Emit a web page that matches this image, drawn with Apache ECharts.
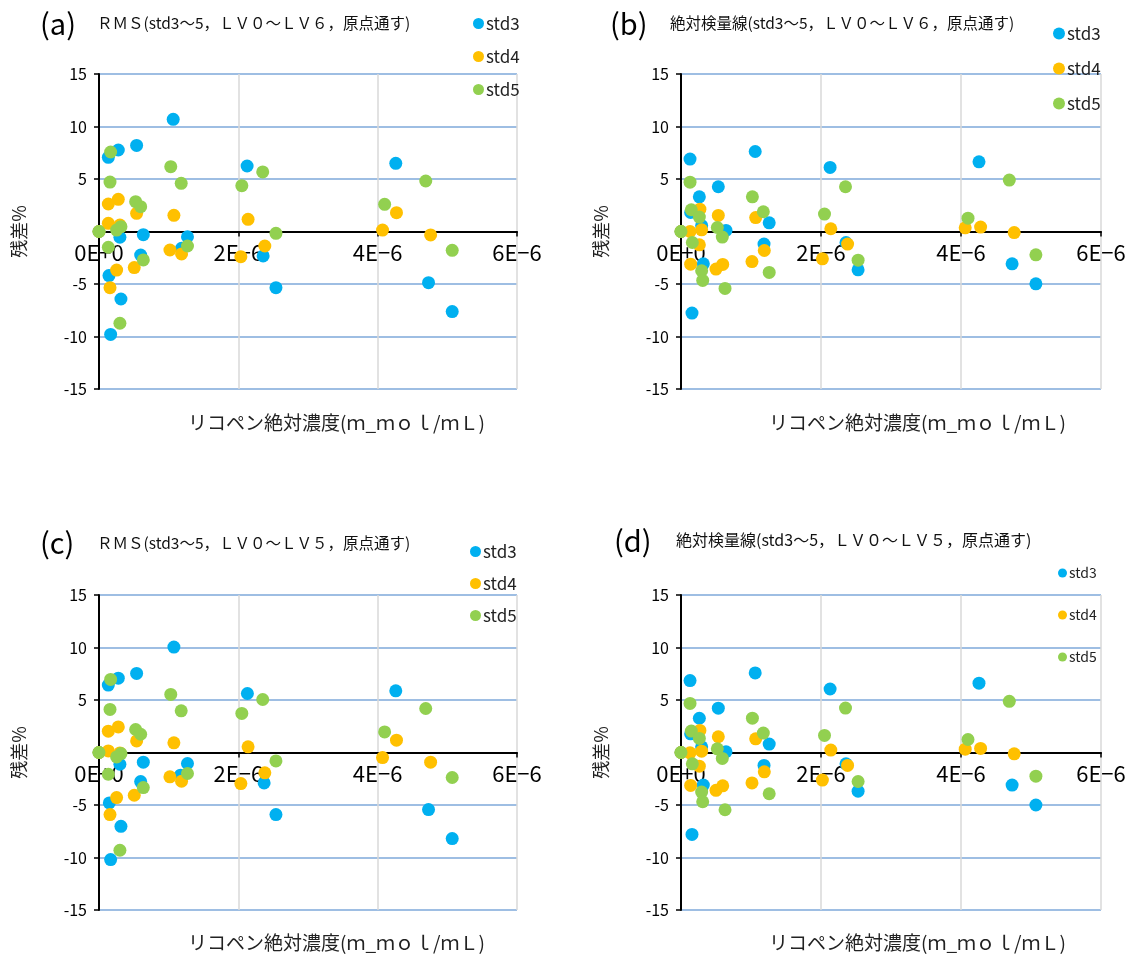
<!DOCTYPE html>
<html>
<head>
<meta charset="utf-8">
<title>残差プロット</title>
<script src="https://cdn.jsdelivr.net/npm/echarts@6/dist/echarts.min.js"></script>
<style>
  html, body { margin: 0; padding: 0; background: #fff; }
  #chart { width: 1132px; height: 960px; }
</style>
</head>
<body>
<div id="chart"></div>
<script>
// x = リコペン絶対濃度 (単位 1E-6 mmol/mL), y = 残差%
const xTicks = [0, 2, 4, 6];
const seriesNames = ['std3', 'std4', 'std5'];

// (a) RMS, LV0~LV6
const a3 = [[0,0],[0.134,7.06],[0.277,7.76],[0.54,8.2],[1.065,10.68],[2.126,6.24],[4.26,6.49],[0.30,-0.55],[0.636,-0.3],[1.27,-0.5],[1.185,-1.6],[0.598,-2.24],[2.356,-2.33],[0.143,-4.2],[0.315,-6.43],[2.54,-5.35],[0.167,-9.8],[4.73,-4.87],[5.07,-7.63]];
const a4 = [[0,0],[0.134,2.62],[0.277,3.06],[0.54,1.73],[1.075,1.54],[2.14,1.16],[0.134,0.78],[0.30,0.62],[1.018,-1.76],[1.185,-2.14],[2.036,-2.4],[2.38,-1.38],[0.253,-3.67],[0.506,-3.44],[0.158,-5.35],[4.27,1.79],[4.07,0.14],[4.76,-0.33]];
const a5 = [[0,0],[0.167,7.57],[1.03,6.17],[2.35,5.67],[0.158,4.71],[1.18,4.59],[2.05,4.36],[0.526,2.84],[0.598,2.36],[0.315,0.46],[0.253,0.14],[2.54,-0.17],[0.134,-1.5],[1.27,-1.38],[0.636,-2.71],[0.30,-8.74],[4.69,4.81],[4.10,2.59],[5.07,-1.79]];

// (b) 絶対検量線, LV0~LV6
const b3 = [[0,0],[0.129,6.9],[1.06,7.62],[2.13,6.1],[0.533,4.26],[0.262,3.3],[0.138,1.81],[0.295,0.57],[0.643,0.1],[1.26,0.83],[1.186,-1.2],[2.357,-1.05],[0.319,-3.08],[2.53,-3.65],[0.157,-7.77],[4.257,6.64],[4.73,-3.08],[5.07,-4.98]];
const b4 = [[0,0],[0.27,2.13],[0.533,1.53],[1.067,1.33],[2.14,0.26],[0.129,0],[0.295,0.16],[0.262,-1.27],[0.138,-3.11],[0.5,-3.58],[0.596,-3.14],[1.014,-2.86],[1.19,-1.81],[2.02,-2.6],[2.38,-1.2],[4.06,0.35],[4.28,0.42],[4.76,-0.1]];
const b5 = [[0,0],[0.129,4.7],[1.02,3.3],[2.35,4.26],[0.147,2.07],[1.176,1.88],[2.05,1.66],[0.262,1.37],[0.519,0.38],[0.59,-0.53],[0.162,-1.05],[0.295,-3.74],[0.31,-4.66],[0.629,-5.42],[1.26,-3.9],[2.53,-2.73],[4.69,4.9],[4.10,1.27],[5.07,-2.22]];

// (c) RMS, LV0~LV5
const c3 = [[0,0],[0.134,6.42],[0.277,7.08],[0.54,7.53],[1.075,10.04],[2.13,5.62],[4.26,5.87],[0.30,-1.12],[0.636,-0.92],[1.27,-1.05],[1.17,-2.16],[0.598,-2.77],[2.37,-2.9],[0.148,-4.8],[0.315,-7.03],[2.54,-5.91],[0.167,-10.2],[4.73,-5.44],[5.07,-8.2]];
const c4 = [[0,0],[0.134,2.03],[0.277,2.44],[0.54,1.1],[1.075,0.92],[2.14,0.54],[0.134,0.15],[0.30,-0.04],[1.018,-2.32],[1.185,-2.74],[2.036,-2.96],[2.38,-1.94],[0.253,-4.29],[0.506,-4.07],[0.158,-5.91],[4.27,1.17],[4.07,-0.48],[4.76,-0.92]];
const c5 = [[0,0],[0.167,6.96],[1.03,5.53],[2.35,5.05],[0.158,4.1],[1.18,3.97],[2.05,3.72],[0.526,2.19],[0.598,1.74],[0.315,-0.1],[0.253,-0.42],[2.54,-0.8],[0.134,-2.07],[1.27,-2.0],[0.636,-3.34],[0.30,-9.31],[4.69,4.19],[4.10,1.96],[5.07,-2.38]];

// (d) 絶対検量線, LV0~LV5 (ほぼ (b) と同じ値)
const d3 = [[0,0],[0.129,6.85],[1.06,7.58],[2.13,6.05],[0.533,4.22],[0.262,3.26],[0.138,1.78],[0.295,0.54],[0.643,0.07],[1.26,0.8],[1.186,-1.23],[2.357,-1.08],[0.319,-3.1],[2.53,-3.68],[0.157,-7.8],[4.257,6.6],[4.73,-3.1],[5.07,-5.0]];
const d4 = [[0,0],[0.27,2.1],[0.533,1.5],[1.067,1.3],[2.14,0.23],[0.129,-0.03],[0.295,0.13],[0.262,-1.3],[0.138,-3.14],[0.5,-3.6],[0.596,-3.17],[1.014,-2.9],[1.19,-1.84],[2.02,-2.63],[2.38,-1.23],[4.06,0.32],[4.28,0.39],[4.76,-0.13]];
const d5 = [[0,0],[0.129,4.67],[1.02,3.27],[2.35,4.23],[0.147,2.04],[1.176,1.85],[2.05,1.63],[0.262,1.34],[0.519,0.35],[0.59,-0.56],[0.162,-1.08],[0.295,-3.77],[0.31,-4.69],[0.629,-5.45],[1.26,-3.93],[2.53,-2.76],[4.69,4.87],[4.10,1.24],[5.07,-2.25]];

const colors = ['#00B0F0', '#FFC000', '#92D050'];
const font = '"Noto Sans CJK JP", "Noto Sans", sans-serif';
const xName = 'リコペン絶対濃度(ｍ_ｍｏｌ/ｍＬ)';

const panels = [
  { tag: '(a)', sub: 'ＲＭＳ(std3～5，ＬＶ０～ＬＶ６，原点通す)', data: [a3, a4, a5],
    grid: { left: 99, top: 74, width: 418, height: 315 },
    tagPos: [40, 9], subPos: [97, 15], subSize: 15.5, namePos: [188, 413],
    legend: { left: 473, top: 15, gap: 16, size: 17, icon: 11 } },
  { tag: '(b)', sub: '絶対検量線(std3～5，ＬＶ０～ＬＶ６，原点通す)', data: [b3, b4, b5],
    grid: { left: 681, top: 74, width: 420, height: 315 },
    tagPos: [610, 9], subPos: [670, 15], subSize: 15.5, namePos: [769, 413],
    legend: { left: 1053, top: 25, gap: 18, size: 17, icon: 12 } },
  { tag: '(c)', sub: 'ＲＭＳ(std3～5，ＬＶ０～ＬＶ５，原点通す)', data: [c3, c4, c5],
    grid: { left: 99, top: 595, width: 418, height: 315 },
    tagPos: [40, 528], subPos: [97, 535], subSize: 15.5, namePos: [188, 933],
    legend: { left: 470, top: 543, gap: 15, size: 17, icon: 11 } },
  { tag: '(d)', sub: '絶対検量線(std3～5，ＬＶ０～ＬＶ５，原点通す)', data: [d3, d4, d5],
    grid: { left: 681, top: 595, width: 420, height: 315 },
    tagPos: [614, 526], subPos: [676, 532], subSize: 16, namePos: [769, 933],
    legend: { left: 1058, top: 566, gap: 28, size: 14, icon: 9 } }
];

const titles = [];
const grids = [];
const xAxes = [];
const yAxes = [];
const legends = [];
const series = [];

panels.forEach((p, i) => {
  titles.push({ text: p.tag, left: p.tagPos[0], top: p.tagPos[1], padding: 0,
    textStyle: { fontFamily: font, fontSize: 29, fontWeight: 'normal', color: '#000' } });
  titles.push({ text: p.sub, left: p.subPos[0], top: p.subPos[1], padding: 0,
    textStyle: { fontFamily: font, fontSize: p.subSize, fontWeight: 'normal', color: '#111' } });
  titles.push({ text: xName, left: p.namePos[0], top: p.namePos[1], padding: 0,
    textStyle: { fontFamily: font, fontSize: 19, fontWeight: 'normal', color: '#222' } });

  grids.push(p.grid);

  // x 軸ラベルは 0 の線のすぐ下に置く
  xAxes.push({
    type: 'value', gridIndex: i, min: xTicks[0], max: xTicks[xTicks.length - 1], interval: 2,
    axisLine: { show: true, onZero: true, lineStyle: { color: '#000', width: 2 } },
    axisTick: { show: true, length: 5, lineStyle: { color: '#000', width: 1.5 } },
    axisLabel: {
      fontFamily: font, fontSize: 22, color: '#000', margin: -147,
      formatter: v => v === 0 ? '0E+0' : v + 'E−6'
    },
    splitLine: { show: true, lineStyle: { color: '#d9d9d9', width: 1.5 } }
  });

  yAxes.push({
    type: 'value', gridIndex: i, min: -15, max: 15, interval: 5,
    name: '残差%', nameLocation: 'middle', nameGap: 71, nameRotate: 90,
    nameTextStyle: { fontFamily: font, fontSize: 18, color: '#222', padding: [0, 0, 0, 0] },
    axisLine: { show: true, onZero: false, lineStyle: { color: '#000', width: 2 } },
    axisTick: { show: true, length: 5, lineStyle: { color: '#000', width: 1.5 } },
    axisLabel: {
      fontFamily: font, fontSize: 16, color: '#000', margin: 12,
      formatter: v => v === 0 ? '' : String(v)
    },
    splitLine: { show: true, lineStyle: { color: '#7EA8DA', width: 1.5 } }
  });

  legends.push({
    data: seriesNames, orient: 'vertical', left: p.legend.left, top: p.legend.top,
    itemGap: p.legend.gap, itemWidth: p.legend.icon, itemHeight: p.legend.icon,
    icon: 'circle', padding: 0, selectedMode: false,
    textStyle: { fontFamily: font, fontSize: p.legend.size, color: '#222', padding: [0, 0, 0, -3] }
  });

  seriesNames.forEach((name, k) => {
    series.push({
      name: name, type: 'scatter', xAxisIndex: i, yAxisIndex: i,
      symbolSize: 13, data: p.data[k],
      itemStyle: { color: colors[k], opacity: 1 },
      emphasis: { disabled: true }
    });
  });
});

const myChart = echarts.init(document.getElementById('chart'));
myChart.setOption({
  animation: false,
  backgroundColor: '#fff',
  title: titles,
  grid: grids,
  xAxis: xAxes,
  yAxis: yAxes,
  legend: legends,
  series: series
});
</script>
</body>
</html>
